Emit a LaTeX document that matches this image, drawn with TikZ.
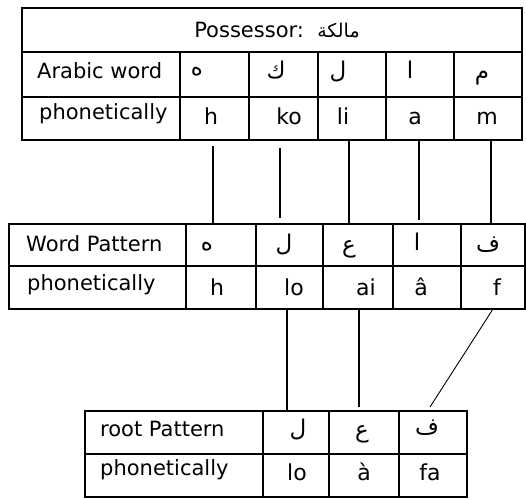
\documentclass[tikz,border=0pt]{standalone}
\usepackage{fontspec}
\setmainfont{DejaVu Sans}
\newfontfamily\arabicfont[Script=Arabic]{DejaVu Sans}
\TeXXeTstate=1
\usetikzlibrary{calc}
\tikzset{
  rule/.style={line width=1.2pt,black},
  link/.style={line width=1.2pt,black},
  rowlbl/.style={anchor=west,inner sep=0pt,font=\fontsize{21}{24}\selectfont},
  phon/.style={inner sep=0pt,font=\fontsize{22}{25}\selectfont},
  letter/.style={inner sep=0pt,font=\arabicfont\fontsize{23}{26}\selectfont}
}

\begin{document}
\begin{tikzpicture}[x=1pt,y=-1pt]
  \useasboundingbox (0,0) rectangle (526,498);
  % possessor table
  \draw[rule] (22,8) rectangle (522,140);
  \draw[rule] (22,52) -- (522,52) (22,97) -- (522,97);
  \foreach \x in {180,249,318,386,454} \draw[rule] (\x,52) -- (\x,140);
  \node[phon,font=\fontsize{21}{24}\selectfont] (title) at (277,30) {Possessor:\ \ {\arabicfont\fontsize{19}{22}\selectfont\beginR مالكة\endR}};
  \node[rowlbl] (arabword) at (37,71) {Arabic word};
  \node[rowlbl] (phontop) at (39,114) {phonetically};
  \node[letter] (t1) at (197,72) {ه};
  \node[letter] (t2) at (276,70) {ك};
  \node[letter] (t3) at (338,72) {ل};
  \node[letter] (t4) at (410,70) {ا};
  \node[letter] (t5) at (482,78) {م};
  \node[phon] (p1) at (211,116) {h};
  \node[phon] (p2) at (289,116) {ko};
  \node[phon] (p3) at (343,116) {li};
  \node[phon] (p4) at (415,118) {a};
  \node[phon] (p5) at (487,118) {m};

  % word pattern table
  \draw[rule] (9,224) rectangle (525,309);
  \draw[rule] (9,266) -- (525,266);
  \foreach \x in {186,256,323,393,461} \draw[rule] (\x,224) -- (\x,309);
  \node[rowlbl] (wordpat) at (26,244) {Word Pattern};
  \node[rowlbl] (phonmid) at (27,285) {phonetically};
  \node[letter] (m1) at (207,247) {ه};
  \node[letter] (m2) at (284,245) {ل};
  \node[letter] (m3) at (349,249) {ع};
  \node[letter] (m4) at (417,242) {ا};
  \node[letter] (m5) at (488,245) {ف};
  \node[phon] (q1) at (217,287) {h};
  \node[phon] (q2) at (294,287) {lo};
  \node[phon] (q3) at (366,287) {ai};
  \node[phon] (q4) at (421,287) {â};
  \node[phon] (q5) at (497,287) {f};

  % root pattern table
  \draw[rule] (85,411) rectangle (467,497);
  \draw[rule] (85,454) -- (467,454);
  \foreach \x in {263,329,399} \draw[rule] (\x,411) -- (\x,497);
  \node[rowlbl] (rootpat) at (100,429) {root Pattern};
  \node[rowlbl] (phonbot) at (100,470) {phonetically};
  \node[letter] (r1) at (298,430) {ل};
  \node[letter] (r2) at (362,434) {ع};
  \node[letter] (r3) at (427,428) {ف};
  \node[phon] (s1) at (297,472) {lo};
  \node[phon] (s2) at (364,472) {à};
  \node[phon] (s3) at (430,472) {fa};

  % links
  \coordinate (a1) at (213,146); \coordinate (b1) at (213,224);
  \coordinate (a2) at (280,148); \coordinate (b2) at (280,218);
  \coordinate (a3) at (349,140); \coordinate (b3) at (349,224);
  \coordinate (a4) at (419,140); \coordinate (b4) at (419,220);
  \coordinate (a5) at (491,140); \coordinate (b5) at (491,224);
  \coordinate (c1) at (287,309); \coordinate (d1) at (287,411);
  \coordinate (c2) at (359,309); \coordinate (d2) at (359,407);
  \coordinate (c3) at (493,309); \coordinate (d3) at (430,407);
  \foreach \i in {1,...,5} \draw[link] (a\i) -- (b\i);
  \foreach \i in {1,2} \draw[link] (c\i) -- (d\i);
  \draw[link,line width=.9pt] (c3) -- (d3);
\end{tikzpicture}
\end{document}
